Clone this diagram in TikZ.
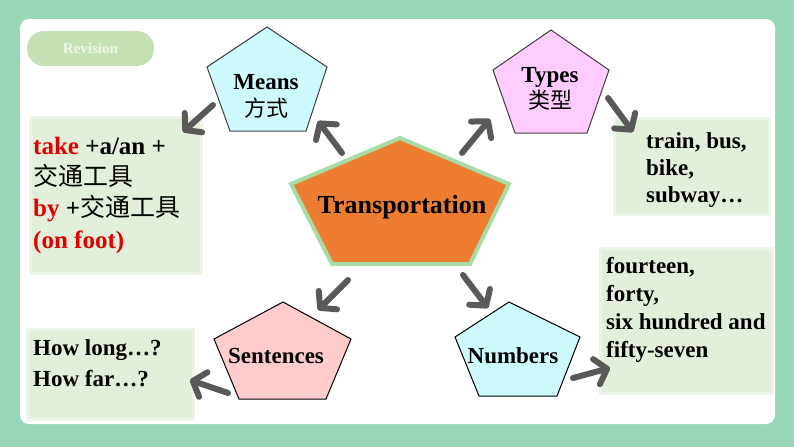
\documentclass[tikz,border=0pt]{standalone}
\usepackage{fontspec}
\setmainfont{Liberation Serif}
\newfontfamily\cjk{Noto Sans CJK SC}
\usetikzlibrary{arrows.meta}
\definecolor{bggreen}{HTML}{98D7B8}
\definecolor{boxgreen}{HTML}{E2EFDA}
\definecolor{boxedge}{HTML}{EDF5E8}
\definecolor{pillgreen}{HTML}{C5E0B4}
\definecolor{pilltext}{HTML}{EEF6EA}
\definecolor{cyanfill}{HTML}{CCFAFF}
\definecolor{pinkfill}{HTML}{FFCCFF}
\definecolor{rosefill}{HTML}{FFCCCC}
\definecolor{orangefill}{HTML}{ED7D31}
\definecolor{orangeedge}{HTML}{A9DBA5}
\definecolor{arrgray}{HTML}{595959}
\definecolor{edgegray}{HTML}{404040}
\definecolor{txtred}{HTML}{E00000}
\tikzset{
  gbox/.style={fill=boxgreen, draw=boxedge, line width=3pt, inner sep=0pt, anchor=north west},
  pent/.style={line width=1pt},
  lbl/.style={inner sep=0pt, anchor=base, font=\fontsize{23}{28}\selectfont\bfseries},
  cjklbl/.style={inner sep=0pt, anchor=base, font=\fontsize{22}{26}\selectfont\cjk},
  line/.style={inner sep=0pt, anchor=base west, font=\fontsize{23}{28}\selectfont\bfseries},
  bigline/.style={inner sep=0pt, anchor=base west, font=\fontsize{25}{30}\selectfont\bfseries},
  arr/.style={draw=arrgray, line width=6pt, line cap=round,
    -{Straight Barb[length=11pt,width=26pt,round]}}
}
\begin{document}
\begin{tikzpicture}[x=1pt,y=-1pt]
\useasboundingbox (0,0) rectangle (794,447);
\fill[bggreen] (0,0) rectangle (794,447);
\fill[white, rounded corners=9pt] (20,19) rectangle (775,424);

% Revision pill
\node[fill=pillgreen, rounded corners=17pt, minimum width=127pt, minimum height=35pt, inner sep=0pt,
  text=pilltext, font=\fontsize{15}{18}\selectfont\bfseries] (revision) at (90.5,48.5) {Revision};

% green boxes
\node[gbox, minimum width=171pt, minimum height=156pt] (meansbox) at (29,116) {};
\node[gbox, minimum width=155pt, minimum height=96pt] (typesbox) at (613,117) {};
\node[gbox, minimum width=172pt, minimum height=145pt] (numbox) at (599,247) {};
\node[gbox, minimum width=166pt, minimum height=90pt] (sentbox) at (26,328) {};

% pentagons
\draw[pent, fill=cyanfill, draw=edgegray] (267,27) -- (327,67) -- (306,131) -- (230,131) -- (207,67) -- cycle;
\draw[pent, fill=pinkfill, draw=edgegray] (551,30) -- (609,70) -- (587,133) -- (515,133) -- (493,70) -- cycle;
\draw[pent, fill=rosefill, draw=black] (283,302) -- (351,339) -- (326,399) -- (239,399) -- (214,339) -- cycle;
\draw[pent, fill=cyanfill, draw=black] (509,302) -- (580,337) -- (557,396) -- (479,396) -- (455,337) -- cycle;
\draw[fill=orangefill, draw=orangeedge, line width=4pt, line join=miter]
  (400,138) -- (509,184) -- (470,264) -- (332,264) -- (291,184) -- cycle;

% pentagon labels
\node[lbl] (means) at (266,89) {Means};
\node[cjklbl] (meanscn) at (266,116) {方式};
\node[lbl] (types) at (550,82) {Types};
\node[cjklbl] (typescn) at (550,108) {类型};
\node[inner sep=0pt, anchor=base, font=\fontsize{26}{30}\selectfont\bfseries] (trans) at (402,213) {Transportation};
\node[lbl] (sent) at (276,363) {Sentences};
\node[lbl] (num) at (513,363) {Numbers};

% box texts
\node[bigline] (m1) at (33,154) {\textcolor{txtred}{take} +a/an +};
\node[bigline] (m2) at (33,185) {\cjk\mdseries 交通工具};
\node[bigline] (m3) at (33,216) {\textcolor{txtred}{by} +{\cjk\mdseries 交通工具}};
\node[bigline, text=txtred] (m4) at (33,248) {(on foot)};

\node[line] (t1) at (646,148) {train, bus,};
\node[line] (t2) at (646,175) {bike,};
\node[line] (t3) at (646,202) {subway…};

\node[line] (n1) at (606,273) {fourteen,};
\node[line] (n2) at (606,301) {forty,};
\node[line] (n3) at (606,329) {six hundred and};
\node[line] (n4) at (606,357) {fifty-seven};

\node[line] (s1) at (33,355) {How long…?};
\node[line] (s2) at (33,386) {How far…?};

% arrow end points
\coordinate (a1s) at (213,105); \coordinate (a1e) at (183,132);
\coordinate (a2s) at (342,153); \coordinate (a2e) at (318,121);
\coordinate (a3s) at (462,153); \coordinate (a3e) at (490,119);
\coordinate (a4s) at (608,98);  \coordinate (a4e) at (633,132);
\coordinate (a5s) at (348,280); \coordinate (a5e) at (318,310);
\coordinate (a6s) at (228,393); \coordinate (a6e) at (190,380);
\coordinate (a7s) at (463,275); \coordinate (a7e) at (488,308);
\coordinate (a8s) at (573,378); \coordinate (a8e) at (610,368);

\draw[arr] (a1s) -- (a1e);
\draw[arr] (a2s) -- (a2e);
\draw[arr] (a3s) -- (a3e);
\draw[arr] (a4s) -- (a4e);
\draw[arr] (a5s) -- (a5e);
\draw[arr] (a6s) -- (a6e);
\draw[arr] (a7s) -- (a7e);
\draw[arr] (a8s) -- (a8e);
\end{tikzpicture}
\end{document}
